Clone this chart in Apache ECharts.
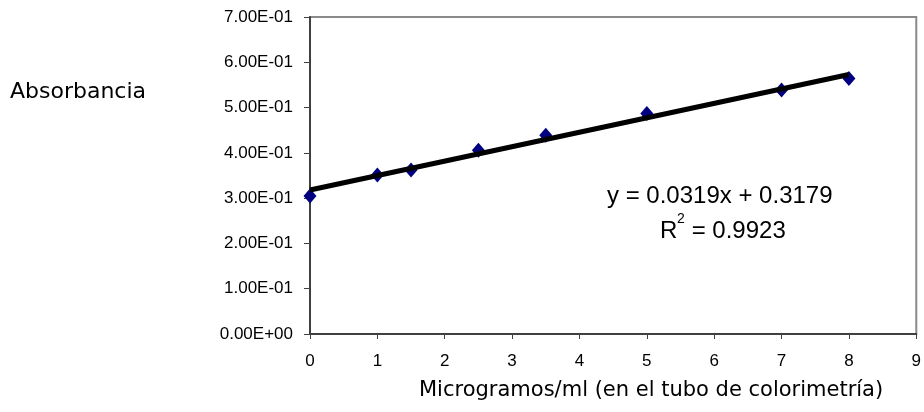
<!DOCTYPE html>
<html>
<head>
<meta charset="utf-8">
<script src="https://cdn.jsdelivr.net/npm/echarts@6/dist/echarts.min.js"></script>
<style>
html,body{margin:0;padding:0;background:#fff;}
#c{width:924px;height:412px;}
</style>
</head>
<body>
<div id="c"></div>
<script>
// Data
const xValues = [0, 1, 1.5, 2.5, 3.5, 5, 7, 8];
const yValues = [0.305, 0.351, 0.362, 0.406, 0.439, 0.487, 0.539, 0.564];
// Trendline endpoints (y = 0.0319x + 0.3179 over 0..8)
const trendX = [0, 8];
const trendY = [0.3179, 0.5731];
const yTickLabels = ['0.00E+00','1.00E-01','2.00E-01','3.00E-01','4.00E-01','5.00E-01','6.00E-01','7.00E-01'];
const xTickLabels = ['0','1','2','3','4','5','6','7','8','9'];
const yAxisTitle = 'Absorbancia';
const xAxisTitle = 'Microgramos/ml (en el tubo de colorimetría)';
const eqLine1 = 'y = 0.0319x + 0.3179';
const eqR = 'R';
const eqSup = '2';
const eqLine2 = ' = 0.9923';

const chart = echarts.init(document.getElementById('c'), null, {renderer: 'canvas'});
const axisColor = '#404040';
chart.setOption({
  animation: false,
  backgroundColor: '#ffffff',
  grid: {
    left: 310, top: 17, right: 1, bottom: 78,
    show: true, borderColor: '#8a8a8a', borderWidth: 2, backgroundColor: 'transparent'
  },
  xAxis: {
    type: 'value', min: 0, max: 9, interval: 1,
    splitLine: {show: false},
    axisLine: {onZero: false, lineStyle: {color: axisColor, width: 2}},
    axisTick: {show: true, inside: false, length: 5, lineStyle: {color: axisColor, width: 1}},
    axisLabel: {
      margin: 19, color: '#000', fontFamily: 'Liberation Sans, Arial, sans-serif', fontSize: 17,
      showMaxLabel: true,
      formatter: function (v) { return xTickLabels[Math.round(v)]; }
    }
  },
  yAxis: {
    type: 'value', min: 0, max: 0.7, interval: 0.1,
    splitLine: {show: false},
    axisLine: {onZero: false, lineStyle: {color: axisColor, width: 2}},
    axisTick: {show: true, inside: false, length: 6, lineStyle: {color: axisColor, width: 1}},
    axisLabel: {
      margin: 17, color: '#000', fontFamily: 'Liberation Sans, Arial, sans-serif', fontSize: 17,
      formatter: function (v) { return yTickLabels[Math.round(v * 10)]; }
    }
  },
  series: [
    {
      type: 'scatter', z: 2,
      symbol: 'diamond', symbolSize: [13, 15],
      itemStyle: {color: '#000080', opacity: 1},
      emphasis: {disabled: true},
      data: xValues.map((x, i) => [x, yValues[i]])
    },
    {
      type: 'line', z: 3,
      showSymbol: false, symbol: 'none',
      lineStyle: {color: '#000000', width: 5},
      emphasis: {disabled: true},
      data: trendX.map((x, i) => [x, trendY[i]])
    }
  ],
  graphic: [
    {type: 'text', left: 10, top: 81, style: {text: yAxisTitle, font: '22px "DejaVu Sans", sans-serif', fill: '#000'}},
    {type: 'text', left: 419, top: 380, style: {text: xAxisTitle, font: '21px "DejaVu Sans", sans-serif', fill: '#000'}},
    {type: 'text', left: 607, top: 184, style: {text: eqLine1, font: '24px "Liberation Sans", Arial, sans-serif', fill: '#000'}},
    {type: 'text', left: 660, top: 219, style: {text: eqR, font: '24px "Liberation Sans", Arial, sans-serif', fill: '#000'}},
    {type: 'text', left: 677, top: 212, style: {text: eqSup, font: '14px "Liberation Sans", Arial, sans-serif', fill: '#000'}},
    {type: 'text', left: 685, top: 219, style: {text: eqLine2, font: '24px "Liberation Sans", Arial, sans-serif', fill: '#000'}}
  ]
});
</script>
</body>
</html>
